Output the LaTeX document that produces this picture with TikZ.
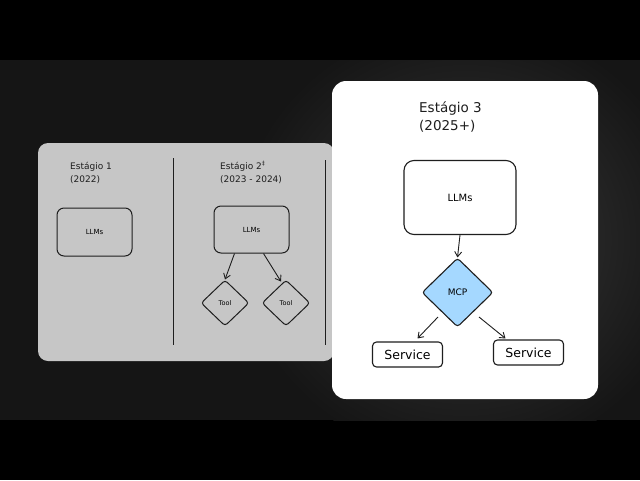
\documentclass[tikz,border=0pt]{standalone}
\usepackage{fontspec}
\setmainfont{DejaVu Sans}
\usetikzlibrary{shapes.geometric,arrows.meta,calc}
\definecolor{band}{HTML}{151515}
\definecolor{glow}{HTML}{3A3A3A}
\definecolor{panelgray}{HTML}{C6C6C6}
\definecolor{mcpblue}{HTML}{A5D8FF}
\definecolor{ink}{HTML}{1E1E1E}
\tikzset{
  boxs/.style={draw=ink, line width=1pt, rounded corners=7pt, inner sep=0pt},
  diam/.style={draw=ink, line width=1pt, diamond, rounded corners=3pt, inner sep=0pt, minimum width=48pt, minimum height=46pt, font=\fontsize{6.5}{7}\selectfont},
  conn/.style={draw=ink, line width=0.9pt, -{Straight Barb[length=5pt,width=7pt]}},
  ttl/.style={anchor=north west, align=left, text=ink, inner sep=0pt},
}
\begin{document}
\begin{tikzpicture}[x=1pt,y=-1pt]
\useasboundingbox (0,0) rectangle (640,480);
\fill[black] (0,0) rectangle (640,480);
\fill[band] (0,60) rectangle (640,420);
\begin{scope}
\clip (0,60) rectangle (640,420);
\shade[inner color=glow, outer color=band] (465,240) ellipse [x radius=230, y radius=220];
\end{scope}
% left panel
\fill[panelgray, rounded corners=10pt] (38,143) rectangle (334,361);
\draw[ink, line width=0.9pt] (173,158) -- (173,345);
\draw[ink, line width=0.9pt] (325,160) -- (325,345);
\node[ttl, font=\fontsize{9}{13}\selectfont] (t1) at (70,162) {Estágio 1\\(2022)};
\node[ttl, font=\fontsize{9}{13}\selectfont] (t2) at (220,161) {Estágio 2\textsuperscript{‡}\\(2023 - 2024)};
\node[boxs, minimum width=75pt, minimum height=48pt, font=\fontsize{7}{8}\selectfont] (l1) at (94.5,232) {LLMs};
\node[boxs, minimum width=75pt, minimum height=47pt, font=\fontsize{7}{8}\selectfont] (l2) at (251.5,229.5) {LLMs};
\node[diam] (tool1) at (225,303) {Tool};
\node[diam] (tool2) at (286,303) {Tool};
\draw[conn] ($(l2.south west)+(21,0)$) -- (tool1.north);
\draw[conn] ($(l2.south east)+(-26,0)$) -- ($(tool2.north)+(-5,2)$);
% right panel
\fill[white, rounded corners=14pt] (332,81) rectangle (598,399);
\node[ttl, font=\fontsize{13.5}{18}\selectfont] (t3) at (419,101) {Estágio 3\\(2025+)};
\node[boxs, line width=1.1pt, rounded corners=10pt, minimum width=112pt, minimum height=74pt, font=\fontsize{10}{11}\selectfont] (l3) at (460,197.5) {LLMs};
\node[diam, line width=1.1pt, fill=mcpblue, minimum width=71pt, minimum height=69pt, font=\fontsize{9}{10}\selectfont] (mcp) at (457.5,292.5) {MCP};
\node[boxs, line width=1.1pt, rounded corners=4pt, minimum width=70pt, minimum height=25pt, font=\fontsize{12.5}{14}\selectfont] (s1) at (407.5,354.5) {Service};
\node[boxs, line width=1.1pt, rounded corners=4pt, minimum width=70pt, minimum height=25pt, font=\fontsize{12.5}{14}\selectfont] (s2) at (528.5,352.5) {Service};
\draw[conn] (l3.south) -- (mcp.north);
\draw[conn] ($(mcp.center)+(-19.5,24.5)$) -- ($(s1.north)+(10,-3)$);
\draw[conn] ($(mcp.center)+(21.5,24.5)$) -- ($(s2.north)+(-23,-1)$);
\end{tikzpicture}
\end{document}
